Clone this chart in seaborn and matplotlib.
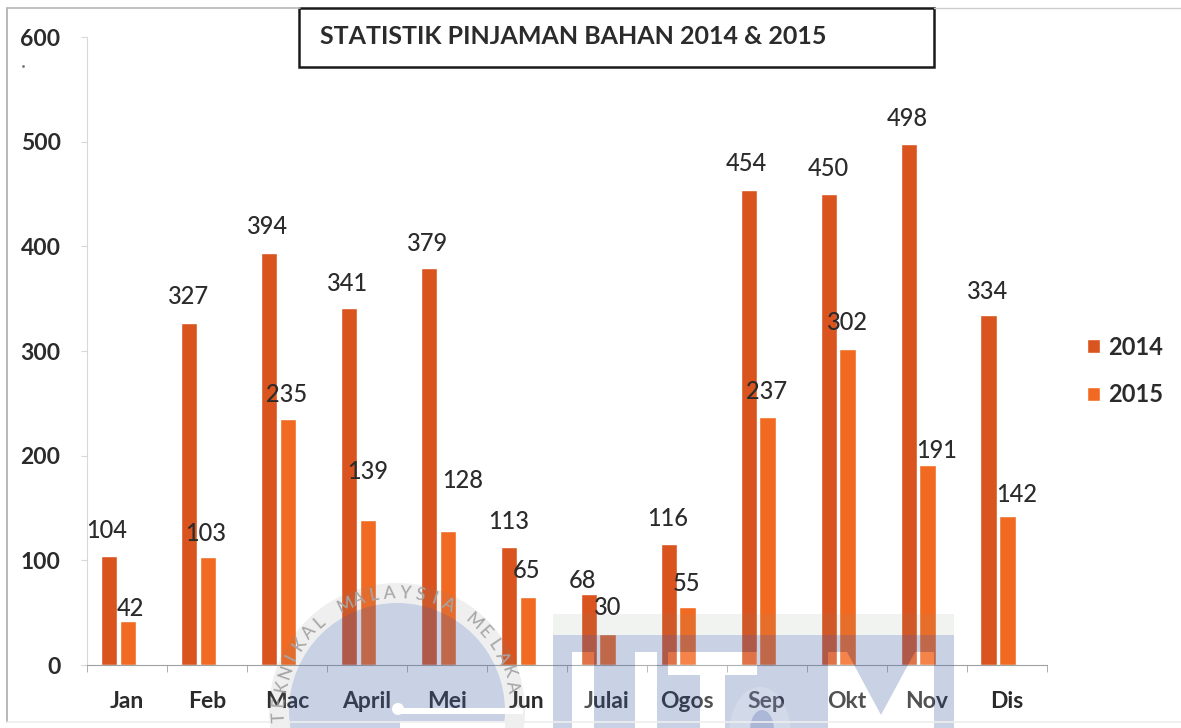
import numpy as np
import pandas as pd
import seaborn as sns
import matplotlib.pyplot as plt
from matplotlib.patches import Rectangle, Circle, Ellipse, PathPatch, Wedge
from matplotlib.path import Path
from matplotlib.transforms import Affine2D

months = ['Jan', 'Feb', 'Mac', 'April', 'Mei', 'Jun', 'Julai', 'Ogos', 'Sep', 'Okt', 'Nov', 'Dis']
vals_2014 = [104, 327, 394, 341, 379, 113, 68, 116, 454, 450, 498, 334]
vals_2015 = [42, 103, 235, 139, 128, 65, 30, 55, 237, 302, 191, 142]

# hand moved data labels, in pixels from top of bar
lab_dx_2014 = [-2, -1, -1, -1, -1, 0, -6, -1, -2, 0, -1, -1]
lab_dy_2014 = [26, 26, 26, 25, 25, 25, 13, 25, 26, 25, 25, 24]
lab_dx_2015 = [3, -2, -1, 0, 15, -1, 0, -1, -1, 0, 9, 9]
lab_dy_2015 = [13, 24, 25, 48, 51, 26, 26, 24, 25, 26, 15, 22]

sns.set_style("white")
plt.rcParams['font.family'] = ['Lato', 'DejaVu Sans']
dark = '#2b2b2b'
col14, col15 = '#D9541E', '#F26A21'

df = pd.DataFrame({'bulan': months * 2,
                   'nilai': vals_2014 + vals_2015,
                   'tahun': ['2014'] * 12 + ['2015'] * 12})

W, H = 1181, 728
fig = plt.figure(figsize=(W / 100, H / 100), dpi=100)
ax = fig.add_axes([87 / W, 1 - 665 / H, (1046.5 - 87) / W, (665 - 37) / H])

sns.barplot(data=df, x='bulan', y='nilai', hue='tahun', order=months, saturation=1,
            palette=[col14, col15], width=0.47, gap=0.13, ax=ax)
ax.set_xlim(-0.394, 11.606)
ax.set_ylim(0, 600)
ax.set(xlabel='', ylabel='')
sns.despine(ax=ax, top=True, right=True)
ax.spines['left'].set_color('#d8d8d8')
ax.spines['bottom'].set_color('#a0a0a0')

ax.set_xticks(np.arange(12) + 0.106, months, fontsize=16.5, fontweight='bold', color=dark)
ax.set_xticks(np.arange(13) - 0.394, minor=True)
ax.tick_params(axis='x', which='major', length=0, pad=19)
ax.tick_params(axis='x', which='minor', length=5, color='#a0a0a0', bottom=True)
ax.set_yticks(range(0, 601, 100))
ax.tick_params(axis='y', length=4, color='#d8d8d8', labelsize=16.5, labelcolor=dark, pad=15, left=True)
for t in ax.get_yticklabels():
    t.set_fontweight('bold')

for cont, dxs, dys in zip(ax.containers[:2], [lab_dx_2014, lab_dx_2015], [lab_dy_2014, lab_dy_2015]):
    for bar, dx, dy in zip(cont, dxs, dys):
        ax.annotate(f'{bar.get_height():.0f}', (bar.get_x() + bar.get_width() / 2, bar.get_height()),
                    xytext=(dx * 0.72, dy * 0.72), textcoords='offset points',
                    ha='center', va='center', fontsize=17, fontweight='medium', color=dark,
                    annotation_clip=False)

leg = ax.legend(loc='center left', bbox_to_anchor=(1.042, 0.468), frameon=False, borderaxespad=0, borderpad=0,
                handlelength=0.55, handleheight=0.55, handletextpad=0.34, labelspacing=1.05,
                prop={'size': 17, 'weight': 'bold'})
for t in leg.get_texts():
    t.set_color(dark)

# everything below is drawn in pixel space: frame, title box, watermark
top = fig.add_axes([0, 0, 1, 1], facecolor='none', zorder=5)
top.set_xlim(0, W)
top.set_ylim(H, 0)
top.axis('off')

top.plot([7, 7], [8, 722], color='#b8b8b8', lw=1.4)
top.plot([7, 300], [8, 8], color='#b8b8b8', lw=1.2)
top.plot([934, 1181], [8, 8], color='#cccccc', lw=1.0)
top.plot([7, 1181], [722, 722], color='#eeeeee', lw=1.2)
top.plot([23], [66], marker='.', ms=2, color='#777777')

top.add_patch(Rectangle((299, 8), 635, 59, facecolor='white', edgecolor='#1a1a1a', lw=1.8))
top.text(320, 36.5, 'STATISTIK PINJAMAN BAHAN 2014 & 2015', fontsize=18, fontweight='bold',
         color=dark, ha='left', va='center')

# watermark
wm_blue = '#4e69ac'
top.add_patch(Wedge((397, 711), 128, 0, 360, width=20, facecolor='#888888', alpha=0.13, lw=0))
top.add_patch(Circle((397, 711), 108, facecolor=wm_blue, alpha=0.3, lw=0))
top.add_patch(Circle((398, 709), 6, facecolor='white', lw=0))
top.add_patch(Rectangle((400, 708), 123, 6, facecolor='white', lw=0))
top.add_patch(Rectangle((400, 721), 105, 7, facecolor='white', lw=0))

arc_text = 'TEKNIKAL MALAYSIA MELAKA'
for ch, ang in zip(arc_text, np.linspace(183, 12, len(arc_text))):
    a = np.deg2rad(ang)
    top.text(397 + 118 * np.cos(a), 711 - 118 * np.sin(a), ch, fontsize=12.5, color='#a6a6a6',
             fontweight='medium', rotation=ang - 90, rotation_mode='anchor', ha='center', va='center')

top.add_patch(Rectangle((553, 614), 401, 21, facecolor='#7f8f7f', alpha=0.1, lw=0))


def poly(pts):
    pts = list(pts) + [pts[0]]
    codes = [Path.MOVETO] + [Path.LINETO] * (len(pts) - 2) + [Path.CLOSEPOLY]
    return Path(pts, codes)


u_left = [(572, 652), (572, 729), (594, 729), (594, 652)]
u_right = [(635, 652), (635, 729), (657, 729), (657, 652)]
t_shape = [(668, 652), (668, 675), (700, 675), (700, 729), (725, 729), (725, 675), (757, 675), (757, 652)]
m_shape = [(828, 652), (828, 729), (934, 729), (934, 652), (915, 652), (881, 715), (847, 652)]
e_outer = Path.unit_circle().transformed(Affine2D().scale(31, 48).translate(760, 735))
block = poly([(553, 635), (954, 635), (954, 729), (553, 729)])
holes = [poly(u_left), poly(u_right), poly(t_shape), poly(m_shape), e_outer]
top.add_patch(PathPatch(Path.make_compound_path(block, *holes), facecolor=wm_blue, alpha=0.3, lw=0))
for h in holes:
    top.add_patch(PathPatch(h, facecolor='white', alpha=0.18, lw=0))
top.add_patch(Ellipse((762, 730), 24, 40, facecolor=wm_blue, alpha=0.3, lw=0))

fig.savefig('out.png', dpi=100)
